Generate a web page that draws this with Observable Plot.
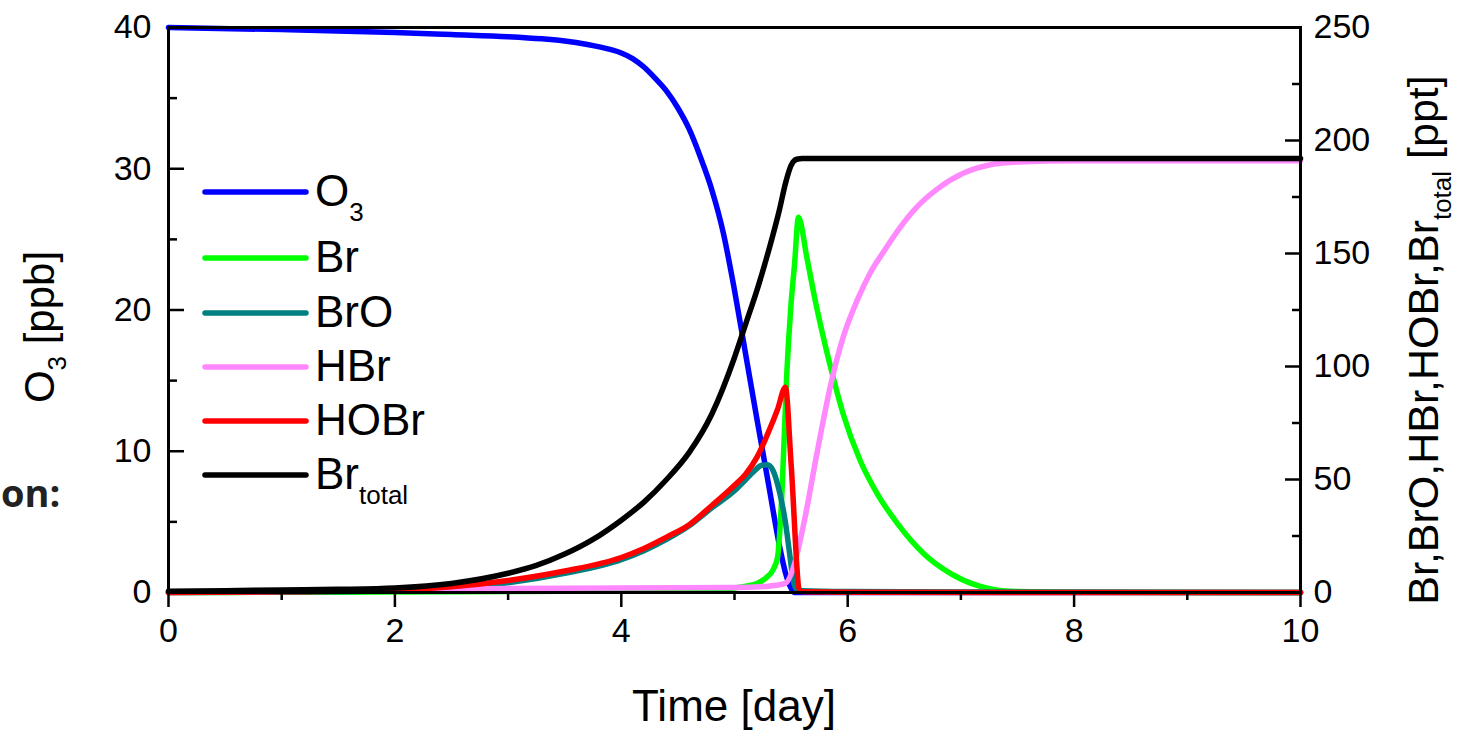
<!DOCTYPE html>
<html><head><meta charset="utf-8">
<script src="https://cdn.jsdelivr.net/npm/d3@7"></script>
<script src="https://cdn.jsdelivr.net/npm/@observablehq/plot@0.6"></script>
<style>
body{margin:0;background:#fff;}
#wrap{position:relative;width:1461px;height:735px;overflow:hidden;background:#fff;}
</style></head><body><div id="wrap"></div>
<script>
// ---- data (time in days) ----
const o3Time = [0,1,2,2.5,3,3.3,3.5,3.7,3.9,4.0,4.1,4.2,4.3,4.4,4.5,4.6,4.7,4.8,4.9,5.0,5.1,5.2,5.3,5.4,5.45,5.5,5.53,10];
const o3Ppb  = [40,39.85,39.65,39.5,39.35,39.2,39.05,38.8,38.45,38.2,37.8,37.2,36.4,35.5,34.3,32.8,30.8,28.5,25.5,21.4,16.8,12.2,7.7,3.2,1.4,0.3,0,0];

const brTime = [0,1,2,3,4,4.5,4.8,5.0,5.1,5.2,5.28,5.34,5.38,5.42,5.46,5.5,5.53,5.565,5.64,5.71,5.78,5.85,5.96,6.11,6.26,6.44,6.67,6.91,7.15,7.3,7.5,8,10];
const brPpt  = [0,0.1,0.2,0.4,0.7,1.0,1.4,2.0,2.8,4.0,6.5,10,15.5,45,95,128,145,166,148,130,114,99.5,79,58.4,43.8,30.5,17.3,8.4,3.0,1.2,0.4,0.1,0];

const broTime = [0,1,2,2.5,3,3.5,4,4.2,4.4,4.6,4.8,5.0,5.1,5.18,5.24,5.29,5.34,5.4,5.45,5.49,5.52,5.55,5.6,6,7,10];
const broPpt  = [0,0.2,0.8,2.0,4.3,8.5,14.5,18.5,23.5,29.5,37.5,45,50,54,56.3,56.5,54,44,31,16,5,1.5,0.8,0.4,0.2,0];

const hbrTime = [0,1,2,3,4,5.0,5.3,5.45,5.52,5.61,5.73,5.85,5.96,6.09,6.2,6.32,6.47,6.6,6.79,7.02,7.26,7.5,8,10];
const hbrPpt  = [0,0.5,1.3,1.8,2.0,2.2,2.8,4,11,30,62,92,113,130,141.5,151,162,170,178.5,185.5,189.3,190.5,191,191];

const hobrTime = [0,1,1.5,2,2.5,3,3.5,4,4.2,4.4,4.6,4.8,5.0,5.1,5.2,5.3,5.38,5.45,5.5,5.575,5.6,6,10];
const hobrPpt  = [0,0.3,0.6,1.0,2.5,5.3,9.5,15.5,19.5,24.5,30,38.5,47.5,52.5,60,71,81,90.8,57,1.0,0.3,0.1,0];

const brTotTime = [0,0.5,1,1.5,2,2.5,3,3.25,3.5,3.75,4,4.2,4.4,4.6,4.8,5.0,5.1,5.2,5.3,5.4,5.45,5.5,5.55,5.6,10];
const brTotPpt  = [0.5,0.8,1.1,1.4,2.0,4.0,8.5,12,17,23.5,32,40,50,62,79,104,119,134,151,170,181,189,191.7,192,192];

const seriesNames = ["O3","Br","BrO","HBr","HOBr","Brtotal"];
const seriesColors = ["#0000ff","#00ff00","#008080","#ff88ff","#ff0000","#000000"];

const xTicks = [0,2,4,6,8,10];
const xMinor = [1,3,5,7,9];
const leftTicks = [0,10,20,30,40];
const leftMinor = [5,15,25,35];
const rightTicks = [0,50,100,150,200,250];
const rightMinor = [25,75,125,175,225];

// ---- build ----
const LEFT_MAX = 40, RIGHT_MAX = 250, K = LEFT_MAX / RIGHT_MAX;
const seriesData = [
  [o3Time, o3Ppb, 1],
  [brTime, brPpt, K],
  [broTime, broPpt, K],
  [hbrTime, hbrPpt, K],
  [hobrTime, hobrPpt, K],
  [brTotTime, brTotPpt, K]
].map(([t, v, k]) => t.map((d, i) => ({t: d, y: v[i] * k})));

const font = "'Liberation Sans', Arial, sans-serif";
const tickFont = 34;

const plot = Plot.plot({
  width: 1461, height: 735,
  marginLeft: 168, marginRight: 161, marginTop: 27, marginBottom: 143,
  style: {fontFamily: font, color: "#000", background: "#fff", overflow: "visible"},
  x: {domain: [0, 10]},
  y: {domain: [0, LEFT_MAX]},
  marks: [
    ...seriesData.map((rows, i) => Plot.line(rows, {x: "t", y: "y", stroke: seriesColors[i], strokeWidth: 5.5, curve: "monotone-x", strokeLinejoin: "round"})),
    Plot.frame({strokeWidth: 3}),
    Plot.axisX(xTicks, {tickSize: 15, tickPadding: 10, fontSize: tickFont, strokeWidth: 2.5, tickFormat: d => String(d), label: null}),
    Plot.axisX(xMinor, {tickSize: 8, tickFormat: () => "", strokeWidth: 2.5, label: null}),
    Plot.axisY(leftTicks, {anchor: "left", tickSize: -16, tickPadding: 33, fontSize: tickFont, strokeWidth: 2.5, tickFormat: d => String(d), label: null}),
    Plot.axisY(leftMinor, {anchor: "left", tickSize: -9, tickFormat: () => "", strokeWidth: 2.5, label: null}),
    Plot.axisY(rightTicks.map(d => d * K), {anchor: "right", tickSize: -16, tickPadding: 29, fontSize: tickFont, strokeWidth: 2.5, tickFormat: d => String(Math.round(d / K)), label: null}),
    Plot.axisY(rightMinor.map(d => d * K), {anchor: "right", tickSize: -9, tickFormat: () => "", strokeWidth: 2.5, label: null})
  ]
});
document.getElementById("wrap").appendChild(plot);

// ---- titles, legend, fragment text ----
const svg = d3.select(plot);
const g = svg.append("g").attr("font-family", font).attr("fill", "#000");

g.append("text").attr("x", 734).attr("y", 721).attr("text-anchor", "middle")
  .attr("font-size", 44).text("Time [day]");

const lt = g.append("text").attr("transform", "translate(54,327) rotate(-90)")
  .attr("text-anchor", "middle").attr("font-size", 42);
lt.append("tspan").text("O");
lt.append("tspan").attr("font-size", 26).attr("dy", 12).text("3");
lt.append("tspan").attr("dy", -12).text(" [ppb]");

const rt = g.append("text").attr("transform", "translate(1438,340) rotate(-90)")
  .attr("text-anchor", "middle").attr("font-size", 43);
rt.append("tspan").text("Br,BrO,HBr,HOBr,Br");
rt.append("tspan").attr("font-size", 26).attr("dy", 13).text("total");
rt.append("tspan").attr("dy", -13).text(" [ppt]");

const legendY = [192, 258, 313, 367, 421, 475];
const leg = g.append("g").attr("text-anchor", "start");
seriesNames.forEach((name, i) => {
  const y = legendY[i];
  leg.append("line").attr("x1", 205).attr("x2", 306).attr("y1", y).attr("y2", y)
    .attr("stroke", seriesColors[i]).attr("stroke-width", 5.5).attr("stroke-linecap", "round");
  const t = leg.append("text").attr("x", 315).attr("y", y + 14).attr("font-size", 44)
    .attr("text-anchor", "start");
  if (name === "O3") {
    t.append("tspan").text("O");
    t.append("tspan").attr("font-size", 26).attr("dy", 15).text("3");
  } else if (name === "Brtotal") {
    t.append("tspan").text("Br");
    t.append("tspan").attr("font-size", 26).attr("dy", 15).text("total");
  } else {
    t.text(name);
  }
});

g.append("text").attr("x", 1).attr("y", 507).attr("text-anchor", "start")
  .attr("font-family", "'Open Sans', sans-serif").attr("font-weight", 700)
  .attr("font-size", 38).attr("fill", "#222").text("on:");
</script>
</body></html>
